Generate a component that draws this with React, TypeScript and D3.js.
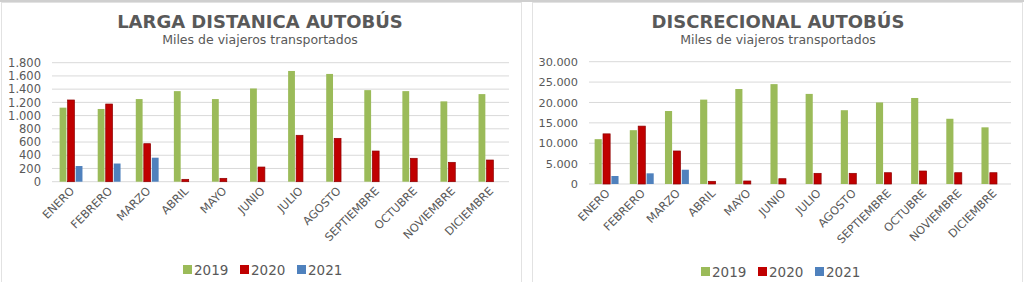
import React from "react";
import * as d3 from "d3";

const months = ["ENERO","FEBRERO","MARZO","ABRIL","MAYO","JUNIO","JULIO","AGOSTO","SEPTIEMBRE","OCTUBRE","NOVIEMBRE","DICIEMBRE"];
const seriesNames = ["2019","2020","2021"];
const seriesColors = ["#9BBB59","#C00000","#4F81BD"];

// Larga distancia (miles de viajeros)
const ld2019 = [1120,1100,1250,1370,1250,1410,1675,1630,1385,1370,1215,1325];
const ld2020 = [1236,1175,575,36,51,222,702,656,464,354,293,328];
const ld2021: (number|null)[] = [237,275,363,null,null,null,null,null,null,null,null,null];
const ldTicks = [0,200,400,600,800,1000,1200,1400,1600,1800];

// Discrecional
const dc2019 = [11000,13200,17900,20700,23300,24500,22100,18100,20000,21100,16000,13900];
const dc2020 = [12300,14200,8100,660,740,1300,2620,2620,2770,3190,2770,2770];
const dc2021: (number|null)[] = [1960,2620,3500,null,null,null,null,null,null,null,null,null];
const dcTicks = [0,5000,10000,15000,20000,25000,30000];

const loc = d3.formatLocale({ decimal: ",", thousands: ".", grouping: [3], currency: ["", "€"] });
const fmt = loc.format(",d");

const FONT = "'DejaVu Sans', Verdana, sans-serif";
const TXT = "#595959";

type PanelProps = {
  title: string;
  cx: number;
  plotX0: number; plotX1: number; plotY0: number; plotY1: number;
  yMax: number; ticks: number[];
  data: (number|null)[][];
  groupPad: number;
  legendY: number;
  tickSize: number;
};

function Panel(p: PanelProps) {
  const y = d3.scaleLinear().domain([0, p.yMax]).range([p.plotY1, p.plotY0]);
  const x0 = d3.scaleBand<string>().domain(months).range([p.plotX0, p.plotX1]).paddingInner(p.groupPad).paddingOuter(p.groupPad / 2);
  const x1 = d3.scaleBand<string>().domain(seriesNames).range([0, x0.bandwidth()]).paddingInner(0.15);
  const legendStep = 57;
  return (
    <g>
      <text x={p.cx} y={28} textAnchor="middle" fontFamily={FONT} fontWeight="bold" fontSize={18} fill={TXT}>{p.title}</text>
      <text x={p.cx} y={44} textAnchor="middle" fontFamily={FONT} fontSize={12.5} fill={TXT}>Miles de viajeros transportados</text>
      {p.ticks.map(t => (
        <g key={t}>
          <line x1={p.plotX0} x2={p.plotX1} y1={y(t)} y2={y(t)} stroke="#D9D9D9" strokeWidth={1} />
          <text x={p.plotX0 - 11} y={y(t)} dy="0.36em" textAnchor="end" fontFamily={FONT} fontSize={p.tickSize} fill={TXT}>{fmt(t)}</text>
        </g>
      ))}
      {months.map((m, i) => (
        <g key={m} transform={`translate(${x0(m)},0)`}>
          {p.data.map((s, k) => {
            const v = s[i];
            if (v === null || v === undefined) return null;
            return (
              <rect key={k} x={x1(seriesNames[k])} y={y(v)} width={x1.bandwidth()} height={y(0) - y(v)}
                fill={seriesColors[k]} stroke={k === 1 ? "#8E0000" : "none"} strokeWidth={k === 1 ? 0.7 : 0} />
            );
          })}
        </g>
      ))}
      {months.map(m => {
        const cxm = (x0(m) as number) + x0.bandwidth() / 2;
        return (
          <text key={m} transform={`translate(${cxm + 4},${p.plotY1 + 10}) rotate(-45)`} textAnchor="end"
            fontFamily={FONT} fontSize={11.3} fill={TXT}>{m}</text>
        );
      })}
      {seriesNames.map((s, k) => {
        const lx = p.cx - 77 + k * legendStep;
        return (
          <g key={s}>
            <rect x={lx} y={p.legendY - 10} width={9} height={9} fill={seriesColors[k]} />
            <text x={lx + 11} y={p.legendY} fontFamily={FONT} fontSize={13.5} fill={TXT}>{s}</text>
          </g>
        );
      })}
    </g>
  );
}

export default function App() {
  return (
    <svg width={1024} height={282} style={{ position: "absolute", left: 0, top: 0, background: "#fff" }}>
      <rect x={0} y={0} width={1024} height={282} fill="#fff" />
      <line x1={0} x2={1024} y1={1} y2={1} stroke="#CFCFCF" strokeWidth={2} />
      <rect x={1.5} y={2.5} width={520} height={290} fill="none" stroke="#E2E2E2" />
      <rect x={532.5} y={2.5} width={490} height={290} fill="none" stroke="#E2E2E2" />
      <Panel title="LARGA DISTANICA AUTOBÚS" cx={260} plotX0={52} plotX1={509} plotY0={62.7} plotY1={181.7}
        yMax={1800} ticks={ldTicks} data={[ld2019, ld2020, ld2021]} groupPad={0.4} legendY={275} tickSize={11.5} />
      <Panel title="DISCRECIONAL AUTOBÚS" cx={778} plotX0={589} plotX1={1011} plotY0={61.7} plotY1={184}
        yMax={30000} ticks={dcTicks} data={[dc2019, dc2020, dc2021]} groupPad={0.32} legendY={277} tickSize={11.3} />
    </svg>
  );
}
